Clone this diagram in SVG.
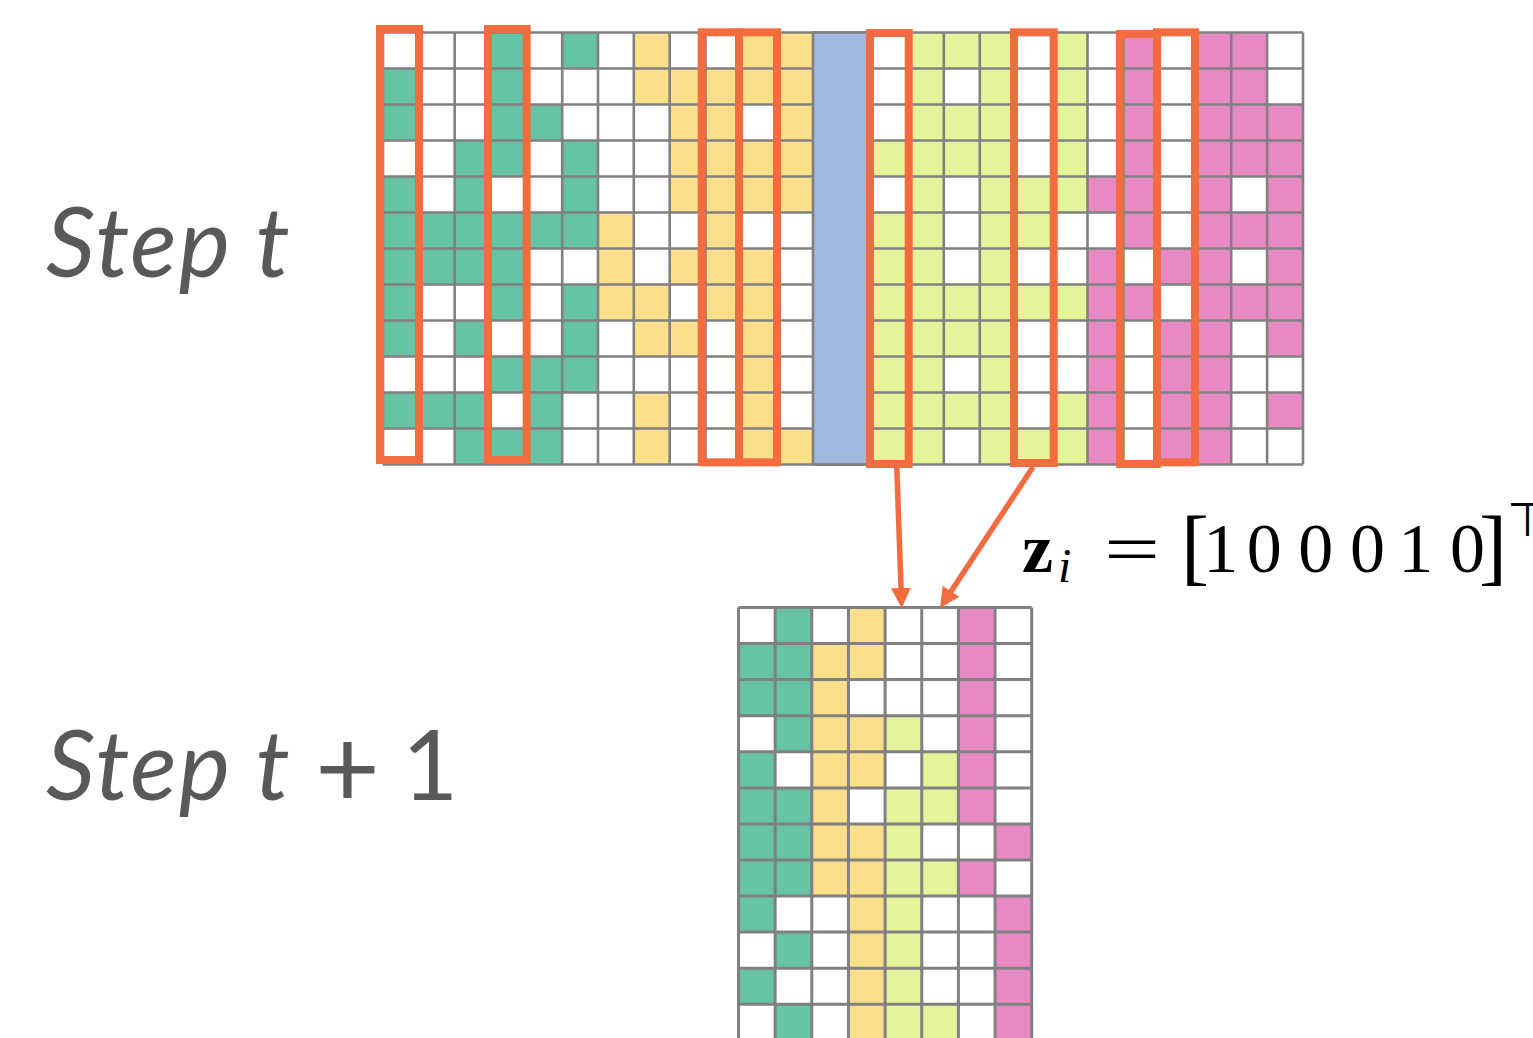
<svg xmlns="http://www.w3.org/2000/svg" width="1533" height="1038" viewBox="0 0 1533 1038">
<style>
.g{fill:#66c3a6}.y{fill:#fbdf8b}.l{fill:#e5f39b}.p{fill:#e78ac3}
.gl{fill:none;stroke:#808080;stroke-width:2.6}
.gl2{fill:none;stroke:#808080;stroke-width:3}
.sel{fill:none;stroke:#f26c40;stroke-width:8}
.arr{stroke:#f26c40;stroke-width:5.5;fill:none}
.step{font-family:Lato,"Open Sans",sans-serif;font-style:italic;font-size:97px;fill:#595959}
.mth{font-family:"Liberation Serif",serif;fill:#000}
</style>
<defs>
<marker id="ah" markerUnits="userSpaceOnUse" viewBox="0 0 20 20" markerWidth="20" markerHeight="20" refX="10" refY="10" orient="auto">
<path d="M0,0 L20,10 L0,20 z" fill="#f26c40"/>
</marker>
</defs>
<rect width="1533" height="1038" fill="#fff"/>

<g id="grid-top">
<rect x="383" y="32.5" width="920" height="432" fill="#fff"/>
<rect class="g" x="383" y="68.5" width="35.8" height="72"/>
<rect class="g" x="383" y="176.5" width="35.8" height="180"/>
<rect class="g" x="383" y="392.5" width="35.8" height="36"/>
<rect class="g" x="418.8" y="212.5" width="35.9" height="72"/>
<rect class="g" x="418.8" y="392.5" width="35.9" height="36"/>
<rect class="g" x="454.7" y="140.5" width="35.8" height="144"/>
<rect class="g" x="454.7" y="320.5" width="35.8" height="36"/>
<rect class="g" x="454.7" y="392.5" width="35.8" height="72"/>
<rect class="g" x="490.5" y="32.5" width="35.8" height="144"/>
<rect class="g" x="490.5" y="212.5" width="35.8" height="108"/>
<rect class="g" x="490.5" y="356.5" width="35.8" height="36"/>
<rect class="g" x="490.5" y="428.5" width="35.8" height="36"/>
<rect class="g" x="526.3" y="104.5" width="35.9" height="36"/>
<rect class="g" x="526.3" y="212.5" width="35.9" height="36"/>
<rect class="g" x="526.3" y="356.5" width="35.9" height="108"/>
<rect class="g" x="562.2" y="32.5" width="35.8" height="36"/>
<rect class="g" x="562.2" y="140.5" width="35.8" height="108"/>
<rect class="g" x="562.2" y="284.5" width="35.8" height="108"/>
<rect class="y" x="598" y="212.5" width="35.8" height="108"/>
<rect class="y" x="633.8" y="32.5" width="35.9" height="72"/>
<rect class="y" x="633.8" y="284.5" width="35.9" height="72"/>
<rect class="y" x="633.8" y="392.5" width="35.9" height="72"/>
<rect class="y" x="669.7" y="68.5" width="35.8" height="144"/>
<rect class="y" x="669.7" y="248.5" width="35.8" height="36"/>
<rect class="y" x="669.7" y="320.5" width="35.8" height="36"/>
<rect class="y" x="705.5" y="68.5" width="35.8" height="252"/>
<rect class="y" x="741.3" y="32.5" width="35.9" height="72"/>
<rect class="y" x="741.3" y="140.5" width="35.9" height="72"/>
<rect class="y" x="741.3" y="248.5" width="35.9" height="216"/>
<rect class="y" x="777.2" y="32.5" width="35.8" height="180"/>
<rect class="y" x="777.2" y="428.5" width="35.8" height="36"/>
<rect class="l" x="872" y="140.5" width="35.9" height="36"/>
<rect class="l" x="872" y="212.5" width="35.9" height="252"/>
<rect class="l" x="907.9" y="32.5" width="35.9" height="432"/>
<rect class="l" x="943.8" y="32.5" width="36" height="36"/>
<rect class="l" x="943.8" y="104.5" width="36" height="72"/>
<rect class="l" x="943.8" y="284.5" width="36" height="72"/>
<rect class="l" x="943.8" y="392.5" width="36" height="36"/>
<rect class="l" x="979.8" y="32.5" width="35.9" height="432"/>
<rect class="l" x="1015.7" y="176.5" width="35.9" height="72"/>
<rect class="l" x="1015.7" y="284.5" width="35.9" height="36"/>
<rect class="l" x="1015.7" y="428.5" width="35.9" height="36"/>
<rect class="l" x="1051.6" y="32.5" width="35.9" height="180"/>
<rect class="l" x="1051.6" y="284.5" width="35.9" height="36"/>
<rect class="l" x="1051.6" y="392.5" width="35.9" height="72"/>
<rect class="p" x="1087.5" y="176.5" width="35.9" height="36"/>
<rect class="p" x="1087.5" y="248.5" width="35.9" height="216"/>
<rect class="p" x="1123.4" y="32.5" width="36" height="216"/>
<rect class="p" x="1123.4" y="284.5" width="36" height="36"/>
<rect class="p" x="1159.4" y="248.5" width="35.9" height="36"/>
<rect class="p" x="1159.4" y="320.5" width="35.9" height="144"/>
<rect class="p" x="1195.3" y="32.5" width="35.9" height="432"/>
<rect class="p" x="1231.2" y="32.5" width="35.9" height="144"/>
<rect class="p" x="1231.2" y="212.5" width="35.9" height="36"/>
<rect class="p" x="1231.2" y="284.5" width="35.9" height="36"/>
<rect class="p" x="1267.1" y="104.5" width="35.9" height="252"/>
<rect class="p" x="1267.1" y="392.5" width="35.9" height="36"/>
<path class="gl" d="M383,32.5H1303M383,68.5H1303M383,104.5H1303M383,140.5H1303M383,176.5H1303M383,212.5H1303M383,248.5H1303M383,284.5H1303M383,320.5H1303M383,356.5H1303M383,392.5H1303M383,428.5H1303M383,464.5H1303
M383,32.5V464.5M418.8,32.5V464.5M454.7,32.5V464.5M490.5,32.5V464.5M526.3,32.5V464.5M562.2,32.5V464.5M598,32.5V464.5M633.8,32.5V464.5M669.7,32.5V464.5M705.5,32.5V464.5M741.3,32.5V464.5M777.2,32.5V464.5
M907.9,32.5V464.5M943.8,32.5V464.5M979.8,32.5V464.5M1015.7,32.5V464.5M1051.6,32.5V464.5M1087.5,32.5V464.5M1123.4,32.5V464.5M1159.4,32.5V464.5M1195.3,32.5V464.5M1231.2,32.5V464.5M1267.1,32.5V464.5M1303,32.5V464.5"/>
<rect x="813" y="32.5" width="59" height="432" fill="#a2b7e0" stroke="#808080" stroke-width="2.6"/>
</g>

<g id="selection-boxes">
<rect class="sel" x="380" y="29" width="39" height="431"/>
<rect class="sel" x="488" y="29" width="38.7" height="431"/>
<rect class="sel" x="701.7" y="32.3" width="37.3" height="430"/>
<rect class="sel" x="739" y="32.3" width="38" height="430"/>
<rect class="sel" x="870" y="33" width="38.7" height="431"/>
<rect class="sel" x="1014" y="32.3" width="39.7" height="430.7"/>
<rect class="sel" x="1120" y="34" width="37" height="430"/>
<rect class="sel" x="1157" y="32.3" width="38" height="430"/>
</g>

<g id="grid-bottom">
<rect x="738.5" y="607.5" width="293.2" height="440" fill="#fff"/>
<rect class="g" x="738.5" y="643.6" width="36.65" height="72.1"/>
<rect class="g" x="738.5" y="751.8" width="36.65" height="180.3"/>
<rect class="g" x="738.5" y="968.2" width="36.65" height="36.1"/>
<rect class="g" x="775.15" y="607.5" width="36.65" height="144.3"/>
<rect class="g" x="775.15" y="787.9" width="36.65" height="108.2"/>
<rect class="g" x="775.15" y="932.1" width="36.65" height="36.1"/>
<rect class="g" x="775.15" y="1004.3" width="36.65" height="36.1"/>
<rect class="y" x="811.8" y="643.6" width="36.65" height="252.5"/>
<rect class="y" x="848.45" y="607.5" width="36.65" height="72.1"/>
<rect class="y" x="848.45" y="715.7" width="36.65" height="72.2"/>
<rect class="y" x="848.45" y="823.9" width="36.65" height="216.4"/>
<rect class="l" x="885.1" y="715.7" width="36.65" height="36.1"/>
<rect class="l" x="885.1" y="787.9" width="36.65" height="252.4"/>
<rect class="l" x="921.75" y="751.8" width="36.65" height="72.1"/>
<rect class="l" x="921.75" y="860" width="36.65" height="36.1"/>
<rect class="l" x="921.75" y="1004.3" width="36.65" height="36"/>
<rect class="p" x="958.4" y="607.5" width="36.65" height="216.4"/>
<rect class="p" x="958.4" y="860" width="36.65" height="36.1"/>
<rect class="p" x="995.05" y="823.9" width="36.65" height="36.1"/>
<rect class="p" x="995.05" y="896.1" width="36.65" height="144.2"/>
<path class="gl2" d="M738.5,607.5H1031.7M738.5,643.6H1031.7M738.5,679.6H1031.7M738.5,715.7H1031.7M738.5,751.8H1031.7M738.5,787.9H1031.7M738.5,823.9H1031.7M738.5,860H1031.7M738.5,896.1H1031.7M738.5,932.1H1031.7M738.5,968.2H1031.7M738.5,1004.3H1031.7M738.5,1040.3H1031.7
M738.5,607.5V1045M775.15,607.5V1045M811.8,607.5V1045M848.45,607.5V1045M885.1,607.5V1045M921.75,607.5V1045M958.4,607.5V1045M995.05,607.5V1045M1031.7,607.5V1045"/>
</g>

<g id="connectors">
<line class="arr" x1="896.7" y1="465" x2="901.35" y2="598" marker-end="url(#ah)"/>
<line class="arr" x1="1033" y1="467" x2="945.5" y2="599.7" marker-end="url(#ah)"/>
</g>

<g id="labels">
<text class="step" x="46" y="277" textLength="244" lengthAdjust="spacing">Step t</text>
<text class="step" x="46" y="800" textLength="244" lengthAdjust="spacing">Step t</text>
<text class="step" x="315" y="808" style="font-style:normal;font-size:112px">+</text>
<text class="step" x="402" y="800" style="font-style:normal">1</text>
</g>

<g id="formula">
<text class="mth" x="1022" y="572" font-size="70" font-weight="bold">z</text>
<text class="mth" x="1058" y="582" font-size="48" font-style="italic">i</text>
<text class="mth" font-size="70" transform="translate(1104,573) scale(1.42,1)">=</text>
<text class="mth" x="1195" y="575" font-size="84" text-anchor="middle">[</text>
<text class="mth" font-size="70" text-anchor="middle" y="572"><tspan x="1220.8">1</tspan><tspan x="1264.2">0</tspan><tspan x="1315.8">0</tspan><tspan x="1367.5">0</tspan><tspan x="1415.8">1</tspan><tspan x="1467.5">0</tspan></text>
<text class="mth" x="1493" y="575" font-size="84" text-anchor="middle">]</text>
<text x="1527.5" y="536" font-size="47" text-anchor="middle" font-family="DejaVu Sans,sans-serif">⊤</text>
</g>
</svg>
